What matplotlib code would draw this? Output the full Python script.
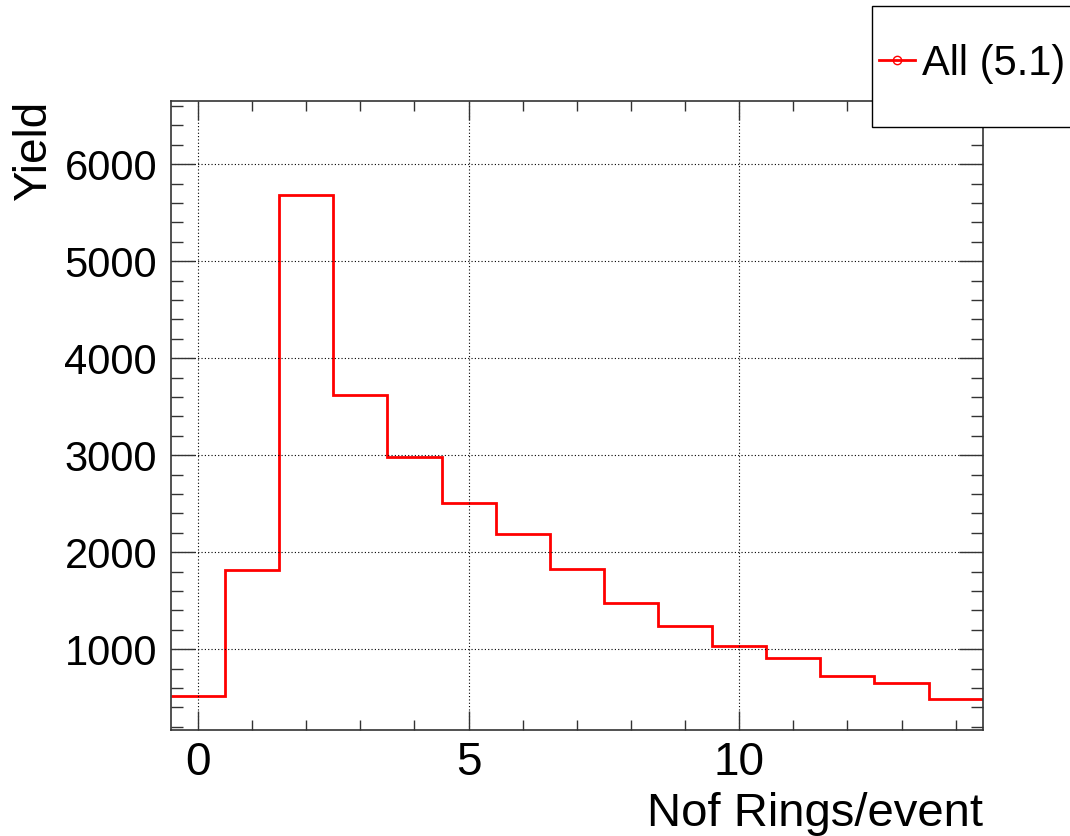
import numpy as np
import matplotlib
matplotlib.use("Agg")
import matplotlib.pyplot as plt
from matplotlib.lines import Line2D
from matplotlib.patches import Rectangle
from matplotlib.ticker import MultipleLocator

# ---- data ----
bin_centers = [0, 1, 2, 3, 4, 5, 6, 7, 8, 9, 10, 11, 12, 13, 14]
yields = [521, 1816, 5677, 3624, 2976, 2511, 2191, 1826, 1471, 1241, 1027, 910, 724, 655, 483]
legend_label = "All (5.1)"
x_label = "Nof Rings/event"
y_label = "Yield"

plt.rcParams['font.family'] = ['Liberation Sans', 'DejaVu Sans']

fig = plt.figure(figsize=(10.7, 8.36), dpi=100)
ax = fig.add_axes([0.1598, 0.1268, 0.9184 - 0.1598, 0.8795 - 0.1268])

centers = np.array(bin_centers, dtype=float)
edges = np.concatenate([centers - 0.5, [centers[-1] + 0.5]])
ax.stairs(yields, edges, color='#ff0000', linewidth=2.0, baseline=None)

ax.set_xlim(-0.5, 14.5)
ax.set_ylim(166, 6654)

ax.xaxis.set_major_locator(MultipleLocator(5))
ax.xaxis.set_minor_locator(MultipleLocator(1))
ax.yaxis.set_major_locator(MultipleLocator(1000))
ax.yaxis.set_minor_locator(MultipleLocator(200))

ax.grid(True, which='major', color='black', linestyle=(0, (1, 2)), linewidth=0.8)

framecol = '#333333'
for s in ax.spines.values():
    s.set_color(framecol)
    s.set_linewidth(1.2)

ax.tick_params(axis='both', which='both', direction='in', top=True, right=True,
               color=framecol, width=1.0)
ax.tick_params(axis='x', which='major', length=14, labelsize=33, pad=8)
ax.tick_params(axis='x', which='minor', length=7)
ax.tick_params(axis='y', which='major', length=17, labelsize=30, pad=10)
ax.tick_params(axis='y', which='minor', length=8.6)

ax.set_xlabel(x_label, fontsize=34, loc='right', labelpad=5)
ax.set_ylabel(y_label, fontsize=33, loc='top', labelpad=6)

# legend box (extends past the right edge like the original)
box = Rectangle((871.5 / 1070, 1 - 127 / 836), 0.3, (127 - 6) / 836,
                transform=fig.transFigure, facecolor='white', edgecolor='black',
                linewidth=1.0, clip_on=False, zorder=5)
fig.patches.append(box)
handle = Line2D([], [], color='#ff0000', linewidth=2.0, marker='o', markersize=6,
                markerfacecolor='none', markeredgecolor='#ff0000', markeredgewidth=1.0)
leg = fig.legend([handle], [legend_label], loc='center left',
                 bbox_to_anchor=(879 / 1070, 1 - 64 / 836), frameon=False,
                 fontsize=30, handlelength=0.86, handletextpad=0.18,
                 borderpad=0, borderaxespad=0)
leg.set_zorder(6)

fig.savefig("out.png", dpi=100)
